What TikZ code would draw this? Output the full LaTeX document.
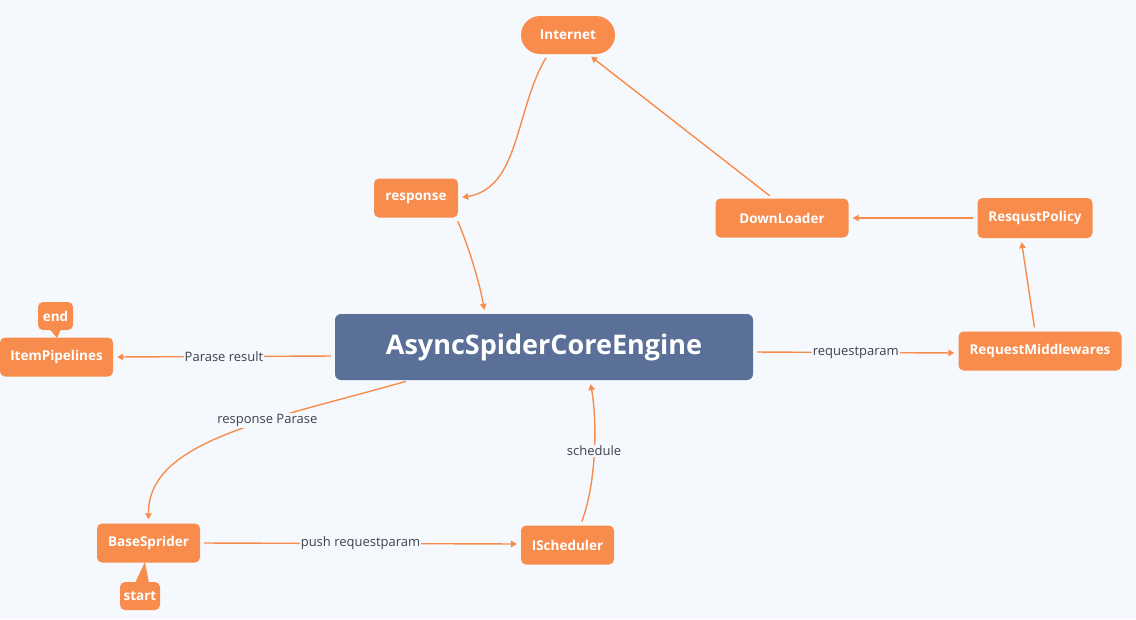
\documentclass[tikz,border=0pt]{standalone}
\usepackage{fontspec}
\setmainfont{Open Sans}
\usetikzlibrary{arrows.meta}
\definecolor{bg}{RGB}{245,249,253}
\definecolor{org}{RGB}{247,140,77}
\definecolor{eng}{RGB}{90,112,153}
\definecolor{lbl}{RGB}{60,66,78}
\tikzset{
  box/.style={fill=org, rounded corners=5pt, text=white, font=\fontsize{13.5}{15}\selectfont\bfseries, inner sep=0pt, align=center},
  conn/.style={draw=org, line width=1.4pt, -{Triangle[width=6.5pt,length=6pt]}, shorten >=4pt, shorten <=4pt},
  elbl/.style={fill=bg, text=lbl, font=\fontsize{13}{15}\selectfont, inner sep=1pt}
}
\begin{document}
\begin{tikzpicture}[x=1pt,y=-1pt]
\useasboundingbox[fill=bg] (0,0) rectangle (1136,619);
% nodes
\node[box, minimum width=94pt, minimum height=38pt, rounded corners=19pt] (internet) at (568,35) {Internet};
\node[box, minimum width=84pt, minimum height=39pt] (response) at (416,198) {response};
\node[box, minimum width=133pt, minimum height=39pt] (down) at (782,218) {DownLoader};
\node[box, minimum width=115pt, minimum height=40pt] (policy) at (1035,218) {ResqustPolicy};
\node[box, minimum width=163pt, minimum height=39pt] (mid) at (1040,351) {RequestMiddlewares};
\node[fill=eng, rounded corners=6pt, text=white, font=\fontsize{27}{32}\selectfont\bfseries, minimum width=418pt, minimum height=66pt, inner sep=0pt] (engine) at (544,347) {AsyncSpiderCoreEngine};
\node[box, minimum width=113pt, minimum height=39pt] (items) at (56.5,357) {ItemPipelines};
\node[box, minimum width=35pt, minimum height=28pt] (end) at (55.5,316) {end};
\node[box, minimum width=103pt, minimum height=39pt] (base) at (148.5,543) {BaseSprider};
\node[box, minimum width=40pt, minimum height=28pt] (start) at (140,596) {start};
\node[box, minimum width=93pt, minimum height=39pt] (sched) at (567.5,545) {IScheduler};
% callout pointers
\coordinate (endtip) at (57,338);
\coordinate (starttip) at (145,562);
\fill[org] ([xshift=-5pt]end.south) -- (endtip) -- ([xshift=5pt]end.south) -- cycle;
\fill[org] (135,583) -- (starttip) -- (149,583) -- cycle;
% connectors
\draw[conn] ([xshift=-20pt]internet.south) .. controls (515,110) and (520,188) .. (response.east);
\draw[conn] ([xshift=-2pt]response.south east) .. controls (470,250) and (480,285) .. ([xshift=-59pt]engine.north);
\draw[conn] ([xshift=-9pt]down.north) -- ([xshift=20pt]internet.south);
\draw[conn] (policy.west) -- (down.east);
\draw[conn] ([xshift=-5pt]mid.north) -- ([xshift=-14pt]policy.south);
\draw[conn] ([yshift=-5pt]engine.east) -- node[elbl]{requestparam} ([yshift=-2pt]mid.west);
\draw[conn] ([yshift=-9pt]engine.west) -- node[elbl]{Parase result} (items.east);
\draw[conn] ([xshift=-134pt]engine.south) .. controls (270,420) and (148,440) .. node[elbl, pos=0.37]{response Parase} (base.north);
\draw[conn] (base.east) -- node[elbl]{push requestparam} ([yshift=1pt]sched.west);
\draw[conn] ([xshift=13pt]sched.north) .. controls (597,480) and (597,420) .. node[elbl]{schedule} ([xshift=46pt]engine.south);
\end{tikzpicture}
\end{document}
